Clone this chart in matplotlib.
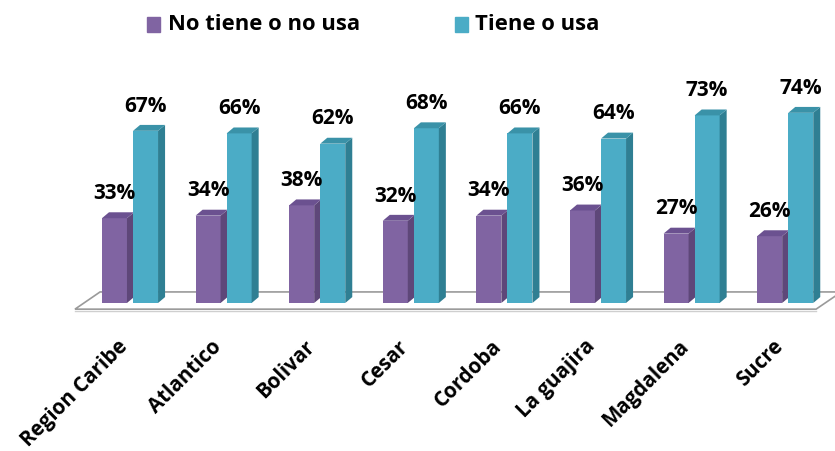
import matplotlib
matplotlib.use("Agg")
import matplotlib.pyplot as plt
from matplotlib.patches import Polygon, Rectangle
import numpy as np

plt.rcParams['font.family'] = ['Open Sans', 'DejaVu Sans']

regiones = ['Region Caribe', 'Atlantico', 'Bolivar', 'Cesar',
            'Cordoba', 'La guajira', 'Magdalena', 'Sucre']
no_tiene = [33, 34, 38, 32, 34, 36, 27, 26]
tiene = [67, 66, 62, 68, 66, 64, 73, 74]
series = ['No tiene o no usa', 'Tiene o usa']

# front, side, top colours for each series
col_no = ('#8064A2', '#5E4779', '#6B5190')
col_si = ('#4BACC6', '#2F7F93', '#3A92A8')

W = 0.267      # bar width
OFF = 0.166    # centre offset of each bar from the group centre
DX, DY = 0.075, 2.3   # fake depth of the 3d look

fig = plt.figure(figsize=(8.35, 4.52), dpi=100)
ax = fig.add_axes([0, 0, 1, 1])
ax.set_xlim(-1.389, 7.532)
ax.set_ylim(-57.6, 118.3)
ax.axis('off')

# floor slab
floor = Polygon([(-0.588, -2.4), (7.33, -2.4), (7.6, 4.3), (-0.32, 4.3)],
                closed=True, facecolor='white', edgecolor='#9a9a9a', lw=1.2, zorder=1)
ax.add_patch(floor)
ax.plot([-0.588, 7.33], [-3.2, -3.2], color='#cfcfcf', lw=1.0, zorder=1)


def bar3d(x0, h, cols):
    ax.bar(x0, h, width=W, align='edge', color=cols[0], zorder=3)
    side = Polygon([(x0 + W, 0), (x0 + W + DX, DY), (x0 + W + DX, h + DY), (x0 + W, h)],
                   closed=True, facecolor=cols[1], edgecolor='none', zorder=3)
    top = Polygon([(x0, h), (x0 + W, h), (x0 + W + DX, h + DY), (x0 + DX, h + DY)],
                  closed=True, facecolor=cols[2], edgecolor='none', zorder=3)
    ax.add_patch(side)
    ax.add_patch(top)


x = np.arange(len(regiones))
for i in x:
    bar3d(i - OFF - W / 2, no_tiene[i], col_no)
    bar3d(i + OFF - W / 2, tiene[i], col_si)
    ax.text(i - OFF, no_tiene[i] + 10, f'{no_tiene[i]}%', ha='center', va='center',
            fontsize=15, fontweight='bold', zorder=5)
    ax.text(i + OFF, tiene[i] + 10, f'{tiene[i]}%', ha='center', va='center',
            fontsize=15, fontweight='bold', zorder=5)
    ax.text(i - 0.14, -12.5, regiones[i], rotation=45, rotation_mode='anchor',
            ha='right', va='top', fontsize=14.8, fontweight='bold')

# legend
fig.patches.append(Rectangle((147 / 835, 1 - 33 / 452), 13 / 835, 15 / 452,
                             transform=fig.transFigure, color=col_no[0]))
fig.text(168 / 835, 1 - 25 / 452, series[0], ha='left', va='center',
         fontsize=15.8, fontweight='bold')
fig.patches.append(Rectangle((455 / 835, 1 - 33 / 452), 13 / 835, 15 / 452,
                             transform=fig.transFigure, color=col_si[0]))
fig.text(475 / 835, 1 - 25 / 452, series[1], ha='left', va='center',
         fontsize=15.8, fontweight='bold')

fig.savefig('out.png', dpi=100)
